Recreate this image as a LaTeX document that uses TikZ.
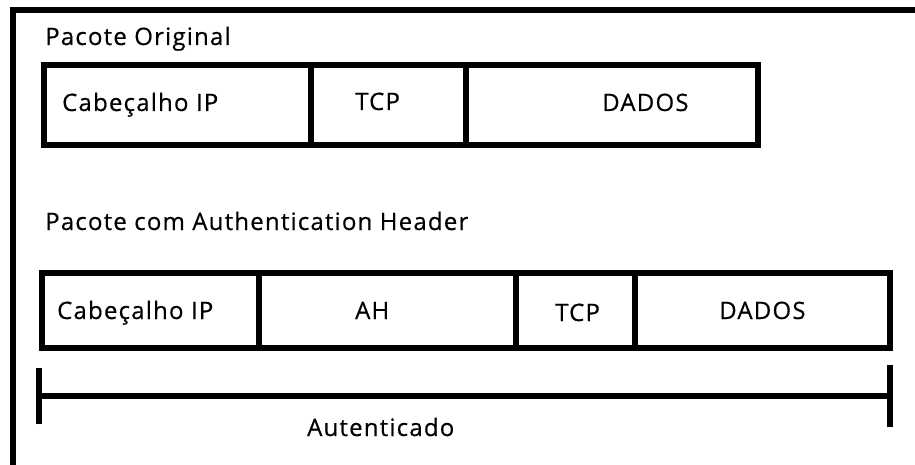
\documentclass[tikz,border=0pt]{standalone}
\usepackage{fontspec}
\setmainfont[LetterSpace=5,FakeBold=0.5]{Open Sans}
\usetikzlibrary{arrows.meta}

\tikzset{
  cell/.style={draw,line width=6pt,rectangle,inner sep=0pt},
  lbl/.style={anchor=base west,inner sep=0pt,font=\fontsize{24}{28}\selectfont}
}

\begin{document}
\begin{tikzpicture}[x=1pt,y=-1pt]
\useasboundingbox (0,0) rectangle (915,465);
% outer frame, only the top and left sides show
\draw[line width=6pt] (12.5,470) -- (12.5,10.5) -- (920,10.5);

% original packet
\node[lbl] (orig) at (45,45) {Pacote Original};
\node[cell,minimum width=267.5pt,minimum height=80pt] (ip1) at (177.25,105) {};
\node[cell,minimum width=154.5pt,minimum height=80pt] (tcp1) at (388.25,105) {};
\node[cell,minimum width=292.5pt,minimum height=80pt] (dados1) at (611.75,105) {};
\node[lbl] (ip1t) at (62,111) {Cabeçalho IP};
\node[lbl] (tcp1t) at (355,110) {TCP};
\node[lbl] (dados1t) at (602,111) {DADOS};

% packet with AH
\node[lbl] (comah) at (45,230) {Pacote com Authentication Header};
\node[cell,minimum width=217.5pt,minimum height=75pt] (ip2) at (150.25,310.5) {};
\node[cell,minimum width=256.5pt,minimum height=75pt] (ah2) at (387.25,310.5) {};
\node[cell,minimum width=119.5pt,minimum height=75pt] (tcp2) at (575.25,310.5) {};
\node[cell,minimum width=255pt,minimum height=75pt] (dados2) at (762.5,310.5) {};
\node[lbl] (ip2t) at (57,319) {Cabeçalho IP};
\node[lbl] (ah2t) at (355,319) {AH};
\node[lbl] (tcp2t) at (555,321) {TCP};
\node[lbl] (dados2t) at (719,319) {DADOS};

% authenticated span
\coordinate (authL) at (36,396);
\coordinate (authR) at (893,396);
\draw[line width=6pt,{Bar[width=56pt]}-{Bar[width=62pt]}] (authL) -- (authR);
\node[lbl] (autent) at (307,436) {Autenticado};
\end{tikzpicture}
\end{document}
